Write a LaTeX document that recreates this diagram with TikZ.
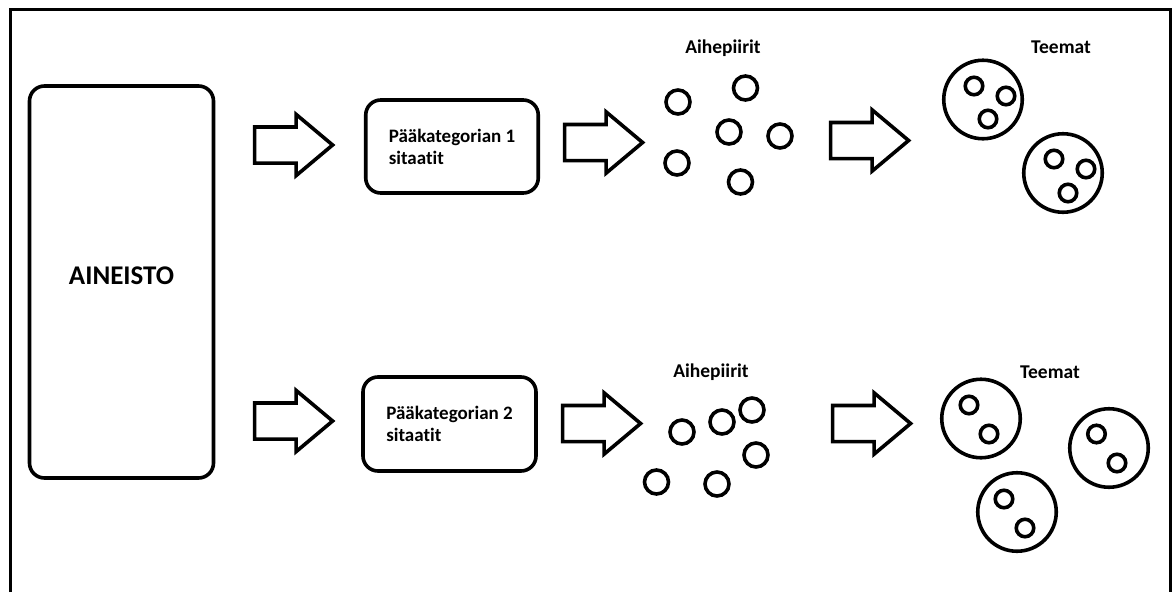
\documentclass[tikz,border=0pt]{standalone}
\usepackage{fontspec}
\setmainfont{Carlito}[RawFeature=-liga]
\usepackage{tikz}
\usetikzlibrary{shapes.arrows}

\begin{document}
\begin{tikzpicture}[x=1pt, y=-1pt]
	\useasboundingbox (0,0) rectangle (1173,592);
	\draw[line width=3pt] (10.5,592) -- (10.5,9.5) -- (1170.5,9.5) -- (1170.5,592);
	\begin{scope}[every node/.style = {draw, line width=3.6pt, rounded corners=15pt,
			align=left, font = \bfseries\fontsize{19}{22}\selectfont}]
		\node[minimum width=184pt, minimum height=392pt, text depth=12pt,
			font = \bfseries\fontsize{27}{30}\selectfont] (A) at (121.5,282) {AINEISTO};
		\node[minimum width=172.5pt, minimum height=93pt] (K1) at (452,146.5) {Pääkategorian 1\\sitaatit};
		\node[minimum width=173pt, minimum height=94pt] (K2) at (449.5,424) {Pääkategorian 2\\sitaatit};
	\end{scope}
	\begin{scope}[every node/.style = {single arrow, draw, line width=3.6pt, anchor=tail,
			minimum height=78pt, inner xsep=0pt, inner ysep=16.25pt,
			single arrow head extend=12.5pt, single arrow tip angle=80}]
		\node (N1) at (252.8,145) {};
		\node (N2) at (562.8,142.5) {};
		\node (N3) at (828.8,140.5) {};
		\node (N4) at (252.8,421) {};
		\node (N5) at (560.8,423.5) {};
		\node (N6) at (830.8,423.5) {};
	\end{scope}
	\begin{scope}[every node/.style = {anchor=base, font = \bfseries\fontsize{19.5}{22}\selectfont}]
		\node (L1) at (723,53) {Aihepiirit};
		\node (L2) at (1061,53) {Teemat};
		\node (L3) at (711,377) {Aihepiirit};
		\node (L4) at (1050,378) {Teemat};
	\end{scope}
	\begin{scope}[every node/.style = {circle, draw, line width=3.6pt, inner sep=0pt, minimum size=24pt}]
		\node (a1) at (678,102) {};
		\node (a2) at (745.5,88) {};
		\node (a3) at (729,132) {};
		\node (a4) at (780,136) {};
		\node (a5) at (677,163) {};
		\node (a6) at (740.5,182) {};
		\node (b1) at (682,432) {};
		\node (b2) at (722,422) {};
		\node (b3) at (752,410) {};
		\node (b4) at (756,455) {};
		\node (b5) at (656.5,482) {};
		\node (b6) at (717,484) {};
	\end{scope}
	\begin{scope}[every node/.style = {circle, draw, line width=3.6pt, inner sep=0pt, minimum size=78.5pt}]
		\node (T1) at (983,99.5) {};
		\node (T2) at (1063,173) {};
		\node (T3) at (981,418.5) {};
		\node (T4) at (1109,448) {};
		\node (T5) at (1017,512) {};
	\end{scope}
	\begin{scope}[every node/.style = {circle, draw, line width=3.6pt, inner sep=0pt, minimum size=17.5pt}]
		\node (t11) at (974,86) {};
		\node (t12) at (1006,96) {};
		\node (t13) at (988,119) {};
		\node (t21) at (1054,159) {};
		\node (t22) at (1086,169) {};
		\node (t23) at (1068,193) {};
		\node (t31) at (969,405) {};
		\node (t32) at (989,434) {};
		\node (t41) at (1096.5,434) {};
		\node (t42) at (1117,463) {};
		\node (t51) at (1004,499) {};
		\node (t52) at (1025,528) {};
	\end{scope}
\end{tikzpicture}
\end{document}
